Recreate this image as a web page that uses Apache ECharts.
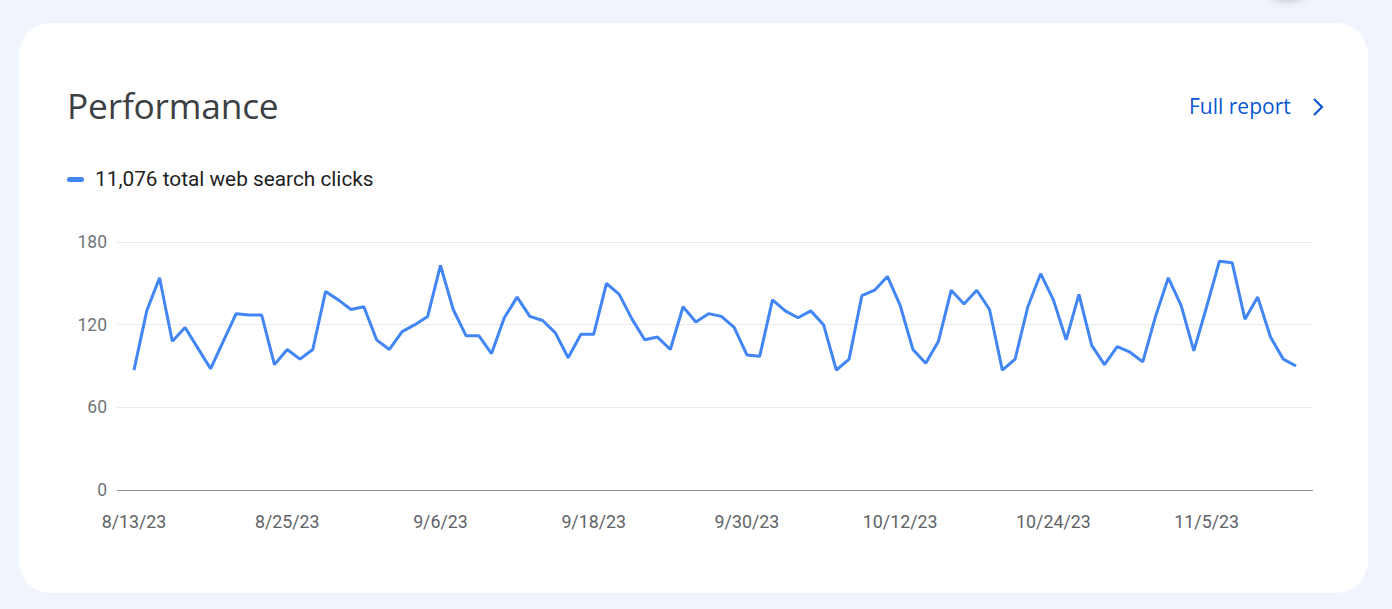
<!DOCTYPE html>
<html>
<head>
<meta charset="utf-8">
<script src="https://cdn.jsdelivr.net/npm/echarts@6/dist/echarts.min.js"></script>
<style>
  html, body { margin: 0; padding: 0; width: 1392px; height: 609px; overflow: hidden; background: #f0f4fc; font-family: Roboto, "Open Sans", sans-serif; }
  #blob { position: absolute; left: 1257px; top: -62px; width: 60px; height: 60px; border-radius: 50%; background: #f0f4fc; box-shadow: 0 2px 10px rgba(0,0,0,0.25); }
  #card { position: absolute; left: 19px; top: 23px; width: 1349px; height: 570px; background: #fff; border-radius: 32px; }
  #title { position: absolute; left: 67px; top: 82px; font-family: "Open Sans", Roboto, sans-serif; font-size: 35.3px; color: #3c4043; letter-spacing: -0.2px; line-height: 46px; }
  #full { position: absolute; left: 1189px; top: 93px; font-family: "Open Sans", Roboto, sans-serif; font-size: 21px; color: #0b57d0; line-height: 26px; }
  #chev { position: absolute; left: 1311px; top: 97px; }
  #legend { position: absolute; left: 67px; top: 167px; font-family: Roboto, sans-serif; font-size: 20.8px; color: #1f1f1f; line-height: 24px; }
  #legend .sw { display: inline-block; width: 17px; height: 5px; border-radius: 3px; background: #4285f4; vertical-align: middle; margin-right: 11px; position: relative; top: -1px; }
  #chart { position: absolute; left: 0; top: 0; width: 1392px; height: 609px; }
</style>
</head>
<body>
<div id="blob"></div>
<div id="card"></div>
<div id="title">Performance</div>
<div id="full">Full report</div>
<svg id="chev" width="14" height="20" viewBox="0 0 14 20"><path d="M3 2 L11 10 L3 18" fill="none" stroke="#0b57d0" stroke-width="2.2"/></svg>
<div id="legend"><span class="sw"></span><span id="legendText"></span></div>
<div id="chart"></div>
<script>
// ---- data ----
const startDate = [2023, 8, 13];
const clicks = [
  87,130,154,108,118,103,88,108,128,127,
  127,91,102,95,102,144,138,131,133,109,
  102,115,120,126,163,131,112,112,99,125,
  140,126,123,114,96,113,113,150,142,124,
  109,111,102,133,122,128,126,118,98,97,
  138,130,125,130,120,87,95,141,145,155,
  134,102,92,108,145,135,145,131,87,95,
  133,157,138,109,142,105,91,104,100,93,
  126,154,134,101,133,166,165,124,140,111,
  95,90
];
const tickIndices = [0, 12, 24, 36, 48, 60, 72, 84];
const yTicks = [0, 60, 120, 180];
const totalClicks = 11076;
const legendLabel = 'total web search clicks';

// date labels for each data index
const dates = clicks.map((_, i) => {
  const d = new Date(startDate[0], startDate[1] - 1, startDate[2] + i);
  return (d.getMonth() + 1) + '/' + d.getDate() + '/' + String(d.getFullYear()).slice(2);
});

document.getElementById('legendText').textContent = totalClicks.toLocaleString('en-US') + ' ' + legendLabel;

const chart = echarts.init(document.getElementById('chart'), null, { renderer: 'svg' });
chart.setOption({
  animation: false,
  grid: { left: 117, right: 79, top: 242, bottom: 119 },
  xAxis: {
    type: 'value',
    min: -1.33,
    max: clicks.length - 1 + 1.33,
    axisLine: { show: false },
    axisTick: { show: false },
    splitLine: { show: false },
    axisLabel: {
      customValues: tickIndices,
      formatter: v => dates[Math.round(v)] || '',
      color: '#5f6368',
      fontSize: 17.8,
      fontFamily: 'Roboto',
      margin: 22
    }
  },
  yAxis: {
    type: 'value',
    min: yTicks[0],
    max: yTicks[yTicks.length - 1],
    interval: 60,
    axisLine: { show: false },
    axisTick: { show: false },
    axisLabel: { color: '#70757a', fontSize: 17.5, fontFamily: 'Roboto', margin: 10 },
    splitLine: {
      lineStyle: { color: ['#8f9499', '#e8eaed', '#e8eaed', '#e8eaed'], width: 1 }
    }
  },
  series: [{
    type: 'line',
    data: clicks.map((v, i) => [i, v]),
    showSymbol: false,
    symbol: 'none',
    lineStyle: { color: '#4285f4', width: 3 },
    itemStyle: { color: '#4285f4' }
  }]
});
</script>
</body>
</html>
